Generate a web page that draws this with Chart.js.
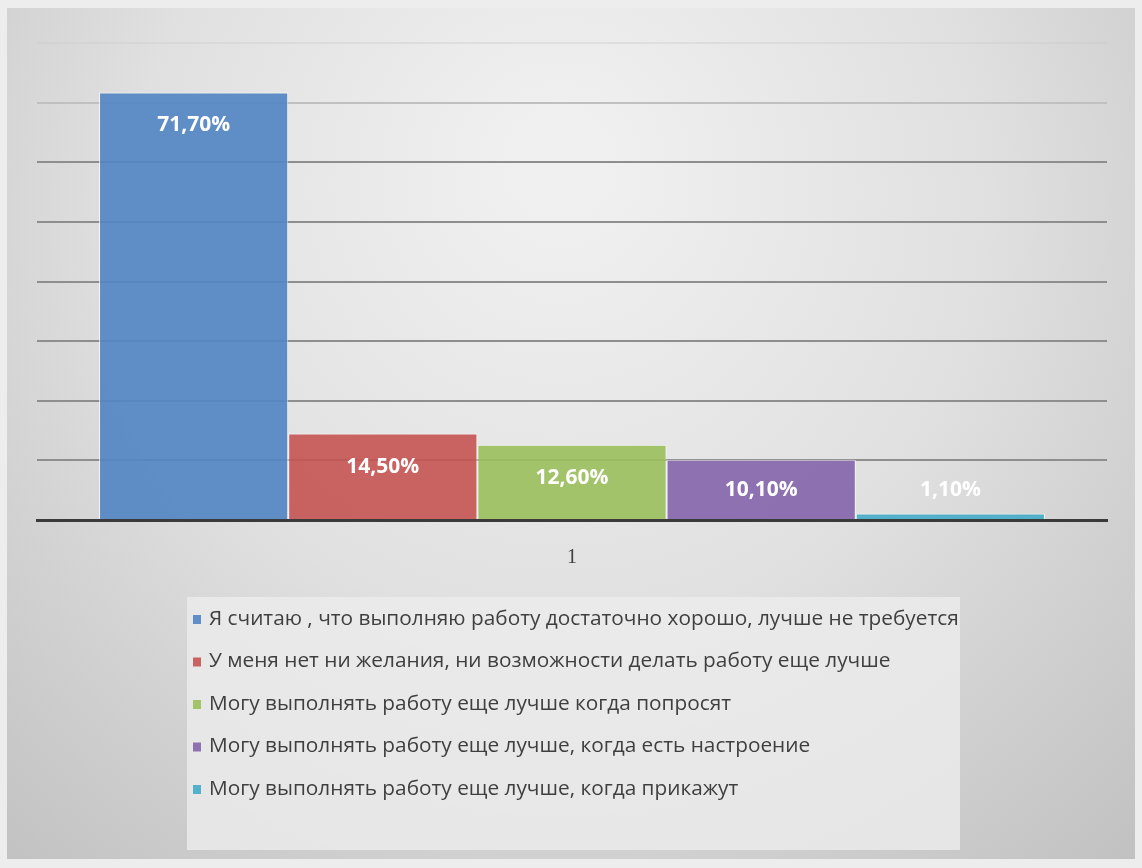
<!DOCTYPE html>
<html lang="ru">
<head>
<meta charset="utf-8">
<title>Отношение к работе</title>
<script src="https://cdn.jsdelivr.net/npm/chart.js@4.4.1/dist/chart.umd.min.js"></script>
<style>
  html, body { margin: 0; padding: 0; background: #ececec; }
  #wrap { width: 1142px; height: 868px; }
</style>
</head>
<body>
<div id="wrap"><canvas id="workChart" width="1142" height="868"></canvas></div>
<script>
// Survey answers, one bar per answer
const categories = ['1'];
const answers = [
    'Я считаю , что выполняю работу достаточно хорошо, лучше не требуется',
    'У меня нет ни желания, ни возможности делать работу еще лучше',
    'Могу выполнять работу еще лучше когда попросят',
    'Могу выполнять работу еще лучше, когда есть настроение',
    'Могу выполнять работу еще лучше, когда прикажут'
];
const shares = [71.7, 14.5, 12.6, 10.1, 1.1];
const barColors = [
    'rgba(84, 134, 195, 0.92)',
    'rgba(196, 84, 82, 0.9)',
    'rgba(155, 191, 92, 0.9)',
    'rgba(132, 100, 170, 0.9)',
    'rgba(70, 174, 200, 0.92)'
];
const yTicks = [0, 10, 20, 30, 40, 50, 60, 70, 80];

const fmtPercent = v => v.toFixed(2).replace('.', ',') + '%';

// Grey frame with a soft light spot near the top
const backdrop = {
    id: 'backdrop',
    beforeDraw(chart) {
        const ctx = chart.ctx;
        ctx.save();
        ctx.fillStyle = '#ededed';
        ctx.fillRect(0, 0, chart.width, chart.height);
        const g = ctx.createRadialGradient(560, 160, 40, 560, 260, 900);
        g.addColorStop(0, '#f0f0f0');
        g.addColorStop(0.45, '#e0e0e0');
        g.addColorStop(1, '#bcbcbc');
        ctx.fillStyle = g;
        ctx.fillRect(7, 8, chart.width - 14, chart.height - 17);
        ctx.restore();
    }
};

// Value labels inside the top of each bar
const barValues = {
    id: 'barValues',
    afterDatasetsDraw(chart) {
        const ctx = chart.ctx;
        const bottom = chart.chartArea.bottom;
        ctx.save();
        ctx.font = 'bold 21px "Open Sans", sans-serif';
        ctx.fillStyle = '#ffffff';
        ctx.textAlign = 'center';
        ctx.textBaseline = 'middle';
        chart.data.datasets.forEach((ds, i) => {
            const bar = chart.getDatasetMeta(i).data[0];
            const y = Math.min(bar.y + 33, bottom - 30);
            ctx.fillText(fmtPercent(ds.data[0]), bar.x, y);
        });
        ctx.restore();
    }
};

// Legend as a stacked list in its own light box
const listLegend = {
    id: 'listLegend',
    afterDraw(chart) {
        const ctx = chart.ctx;
        const box = { x: 187, y: 597, w: 773, h: 253 };
        ctx.save();
        ctx.fillStyle = 'rgba(236, 236, 236, 0.8)';
        ctx.fillRect(box.x, box.y, box.w, box.h);
        ctx.font = '20.8px "Open Sans", sans-serif';
        ctx.textBaseline = 'middle';
        chart.data.datasets.forEach((ds, i) => {
            const y = box.y + 22 + i * 42.5;
            ctx.fillStyle = ds.backgroundColor;
            ctx.fillRect(box.x + 6, y - 4, 8, 9);
            ctx.fillStyle = '#3f3f3f';
            ctx.fillText(ds.label, box.x + 22, y);
        });
        ctx.restore();
    }
};

new Chart(document.getElementById('workChart'), {
    type: 'bar',
    data: {
        labels: categories,
        datasets: answers.map((label, i) => ({
            label: label,
            data: [shares[i]],
            backgroundColor: barColors[i],
            borderColor: 'rgba(255, 255, 255, 0.75)',
            borderWidth: 1,
            borderSkipped: 'bottom',
            barPercentage: 1,
            categoryPercentage: 0.884
        }))
    },
    options: {
        responsive: false,
        animation: false,
        layout: { padding: { left: 37, right: 35, top: 43, bottom: 272 } },
        plugins: {
            legend: { display: false },
            tooltip: { enabled: false }
        },
        scales: {
            x: {
                grid: { display: false, drawTicks: false },
                border: { display: true, color: '#3a3a3a', width: 3 },
                ticks: {
                    padding: 26,
                    color: '#404040',
                    font: { family: '"Liberation Serif", serif', size: 20 }
                }
            },
            y: {
                min: 0,
                max: 80,
                afterBuildTicks(axis) {
                    axis.ticks = yTicks.map(v => ({ value: v }));
                },
                grid: {
                    drawTicks: false,
                    lineWidth: 2,
                    color(ctx) {
                        const v = ctx.tick && ctx.tick.value;
                        if (v === 0) return 'rgba(0,0,0,0)';
                        if (v === 80) return 'rgba(200, 200, 200, 0.35)';
                        if (v === 70) return '#c0c0c0';
                        return '#8e8e8e';
                    }
                },
                border: { display: false },
                ticks: { display: false }
            }
        }
    },
    plugins: [backdrop, barValues, listLegend]
});
</script>
</body>
</html>
